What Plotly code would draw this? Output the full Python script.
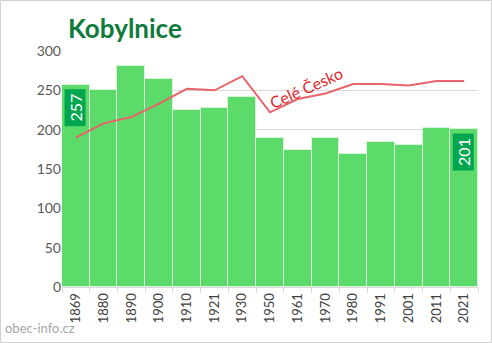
import plotly.graph_objects as go

years = ["1869", "1880", "1890", "1900", "1910", "1921", "1930", "1950",
         "1961", "1970", "1980", "1991", "2001", "2011", "2021"]
population = [257, 250, 281, 265, 225, 227, 241, 190, 174, 189, 169, 184, 181, 202, 201]
czechia_scaled = [190, 208, 216, 233, 252, 250, 268, 222, 239, 246, 258, 258, 256, 262, 262]

FONT = "Lato"
idx = list(range(len(years)))

W, H = 492, 343
ML, MR, MT, MB = 62, 14, 51, 56
PW, PH = W - ML - MR, H - MT - MB


def px_x(px):
    return (px - ML) / PW


def px_y(py):
    return (H - MB - py) / PH


fig = go.Figure()
fig.add_trace(go.Bar(
    x=idx, y=population, width=1,
    marker=dict(color="#5cdb6a", line=dict(color="#d8f5dc", width=1)),
    hoverinfo="skip",
))
fig.add_trace(go.Scatter(
    x=idx, y=czechia_scaled, mode="lines",
    line=dict(color="#e8636a", width=2),
    hoverinfo="skip",
))

for i in (0, len(years) - 1):
    fig.add_annotation(
        x=idx[i], y=population[i], xref="x", yref="y",
        text=str(population[i]), textangle=-90, showarrow=False,
        yanchor="top", yshift=-4, xshift=-1,
        width=34, height=18, align="center", valign="middle",
        bgcolor="#00a550", font=dict(color="white", size=16, family=FONT),
        borderpad=1,
    )

fig.add_annotation(
    x=8.3, y=254, xref="x", yref="y", text="Celé Česko",
    textangle=-24, showarrow=False,
    font=dict(color="#e0262b", size=16, family=FONT),
)

fig.add_annotation(
    x=px_x(66), y=px_y(28), xref="paper", yref="paper",
    xanchor="left", yanchor="middle", text="<b>Kobylnice</b>", showarrow=False,
    font=dict(color="#0e7a3c", size=26, family=FONT),
)
fig.add_annotation(
    x=px_x(3), y=px_y(328), xref="paper", yref="paper",
    xanchor="left", yanchor="middle", text="obec-info.cz", showarrow=False,
    font=dict(color="#a6a6a6", size=13, family=FONT),
)

fig.add_shape(type="rect", xref="paper", yref="paper",
              x0=px_x(0.5), y0=px_y(342.5), x1=px_x(491.5), y1=px_y(0.5),
              line=dict(color="#d0d0d0", width=1))

fig.update_layout(
    width=W, height=H,
    margin=dict(l=ML, r=MR, t=MT, b=MB),
    paper_bgcolor="white", plot_bgcolor="white",
    showlegend=False, bargap=0,
    font=dict(family=FONT, color="#595959"),
    xaxis=dict(
        range=[-0.5, len(years) - 0.5], tickmode="array", tickvals=idx, ticktext=years,
        tickangle=-90, tickfont=dict(size=13, color="#404040"), ticks="",
        minor=dict(tickmode="array", tickvals=[i - 0.5 for i in range(len(years) + 1)],
                   ticks="outside", ticklen=5, tickcolor="#d9d9d9", showgrid=False),
        showline=True, linecolor="#d9d9d9", showgrid=False, zeroline=False,
    ),
    yaxis=dict(
        range=[0, 300], dtick=50, tickfont=dict(size=14, color="#595959"),
        showgrid=True, gridcolor="#d9d9d9", zeroline=False, ticks="",
    ),
)

fig.write_html("out.html")
